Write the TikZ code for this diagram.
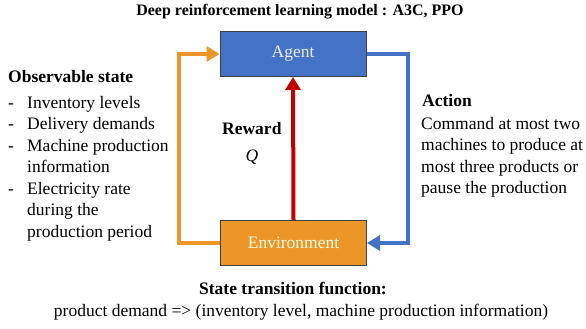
\documentclass[tikz,border=0pt]{standalone}
\usepackage{fontspec}
\setmainfont{Liberation Serif}
\usetikzlibrary{arrows.meta}
\definecolor{agblue}{RGB}{68,114,196}
\definecolor{envor}{RGB}{236,150,42}
\definecolor{rwred}{RGB}{192,0,0}
\tikzset{
  box/.style={draw=black!75, line width=1pt, minimum width=146pt, minimum height=45pt, inner sep=0pt, font=\fontsize{17.5}{21}\selectfont},
  conn/.style={line width=4pt, -{Triangle[length=13pt,width=15pt]}},
  lbl/.style={inner sep=0pt, anchor=west, font=\fontsize{17.5}{21.5}\selectfont, align=left},
  hd/.style={inner sep=0pt, font=\fontsize{17.5}{21}\selectfont\bfseries}
}
\begin{document}
\begin{tikzpicture}[x=1pt,y=-1pt]
\useasboundingbox (0,0) rectangle (586,329);
\node[hd, font=\fontsize{16}{19}\selectfont\bfseries] (title) at (300,12) {Deep reinforcement learning model : A3C, PPO};
\node[box, fill=agblue, text=white!92!black] (agent) at (293,54) {Agent};
\node[box, fill=envor, text=white!90!yellow] (env) at (293.5,243) {Environment};
\coordinate (ol) at (179,243);
\draw[conn, envor] (env.west) -- (ol) |- (agent.west);
\coordinate (br) at (408,54);
\draw[conn, agblue] (agent.east) -| (408,243) -- (env.east);
\draw[conn, rwred] (env.north) -- (agent.south);
\node[hd, anchor=west] (rw) at (222,129) {Reward};
\node[inner sep=0pt, font=\fontsize{17.5}{21}\selectfont\itshape] (q) at (252,157) {Q};
\node[hd, anchor=west] (obs) at (8,77) {Observable state};
\node[lbl, anchor=north west] (list) at (8,93) {%
\begin{tabular}{@{}p{19pt}@{}l@{}}
-& Inventory levels\\
-& Delivery demands\\
-& Machine production\\
 & information\\
-& Electricity rate\\
 & during the\\
 & production period
\end{tabular}};
\node[hd, anchor=west] (act) at (422,101) {Action};
\node[lbl, anchor=north west] (acttxt) at (421,117) {Command at most two\\machines to produce at\\most three products or\\pause the production};
\node[hd] (stf) at (293,288) {State transition function:};
\node[inner sep=0pt, font=\fontsize{17.5}{21}\selectfont] (pd) at (301,312) {product demand => (inventory level, machine production information)};
\end{tikzpicture}
\end{document}
